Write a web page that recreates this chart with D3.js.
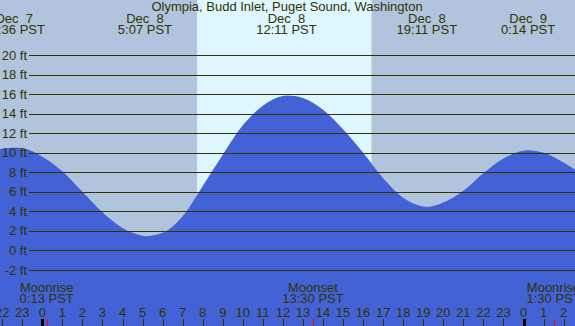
<!DOCTYPE html>
<html>
<head>
<meta charset="utf-8">
<script src="https://cdn.jsdelivr.net/npm/d3@7"></script>
<style>
  body { margin: 0; background: #b0c4de; }
  svg { display: block; }
  text { font-family: "Liberation Sans", Arial, sans-serif; font-size: 13px; fill: #333300; }
</style>
</head>
<body>
<div id="chart"></div>
<script>
// tide heights (ft), hours relative to Dec 8 0:00
const tideHours = [-2.2, -2, -1.4, -1, 0, 1, 2, 3, 4, 5, 5.12, 6, 7, 8, 9, 10, 11, 12, 12.18, 13, 14, 15, 16, 17, 18, 19, 19.18, 20, 21, 22, 23, 24, 24.23, 25, 26, 26.7];
const tideFeet  = [10.35, 10.4, 10.5, 10.45, 9.6, 8.1, 6.0, 3.9, 2.3, 1.5, 1.45, 1.8, 3.5, 6.6, 9.8, 12.8, 14.8, 15.8, 15.85, 15.6, 14.4, 12.4, 10.0, 7.4, 5.4, 4.5, 4.45, 4.9, 6.1, 7.9, 9.4, 10.2, 10.25, 10.0, 9.0, 8.1];

// high / low tide events along the top
const eventHours = [-1.4, 5.12, 12.18, 19.18, 24.23];
const eventDays  = ["Dec  7", "Dec  8", "Dec  8", "Dec  8", "Dec  9"];
const eventTimes = ["22:36 PST", "5:07 PST", "12:11 PST", "19:11 PST", "0:14 PST"];

// moon events along the bottom
const moonHours = [0.22, 13.5, 25.5];
const moonNames = ["Moonrise", "Moonset", "Moonrise"];
const moonTimes = ["0:13 PST", "13:30 PST", "1:30 PST"];

const sunrise = 7.72, sunset = 16.42;
const feetTicks = [-2, 0, 2, 4, 6, 8, 10, 12, 14, 16, 18, 20];
const hourTicks = d3.range(-2, 27);
const title = "Olympia, Budd Inlet, Puget Sound, Washington";

const width = 575, height = 326;

const x = d3.scaleLinear().domain([0, 24]).range([42.3, 523.5]);
const y = d3.scaleLinear().domain([-2, 20]).range([270, 55]);

const svg = d3.select("#chart").append("svg")
  .attr("width", width)
  .attr("height", height);

svg.append("rect")
  .attr("width", width).attr("height", height)
  .attr("fill", "#b0c4de");

// daylight
svg.append("rect")
  .attr("x", x(sunrise)).attr("y", 0)
  .attr("width", x(sunset) - x(sunrise)).attr("height", height)
  .attr("fill", "#ddf6ff");

// tide fill
const area = d3.area()
  .x((d, i) => x(tideHours[i]))
  .y0(height)
  .y1(d => y(d))
  .curve(d3.curveMonotoneX);

svg.append("path")
  .datum(tideFeet)
  .attr("d", area)
  .attr("fill", "#4262d6");

// grid + feet labels
const grid = svg.append("g");
grid.selectAll("line")
  .data(feetTicks)
  .enter()
  .append("line")
  .attr("x1", 29).attr("x2", width)
  .attr("y1", d => Math.round(y(d)) + 0.5)
  .attr("y2", d => Math.round(y(d)) + 0.5)
  .attr("stroke", "#333300")
  .attr("stroke-width", 1);

grid.selectAll("text")
  .data(feetTicks)
  .enter()
  .append("text")
  .attr("x", 27)
  .attr("y", d => y(d) + 4.5)
  .attr("text-anchor", "end")
  .text(d => d + " ft");

// title
svg.append("text")
  .attr("x", 287).attr("y", 11)
  .attr("text-anchor", "middle")
  .text(title);

// tide event labels
const ev = svg.append("g")
  .selectAll("g")
  .data(eventHours)
  .enter()
  .append("g");

ev.append("text")
  .attr("x", d => x(d)).attr("y", 23)
  .attr("text-anchor", "middle")
  .style("white-space", "pre")
  .text((d, i) => eventDays[i]);

ev.append("text")
  .attr("x", d => x(d)).attr("y", 34)
  .attr("text-anchor", "middle")
  .text((d, i) => eventTimes[i]);

// moon labels
const mo = svg.append("g")
  .selectAll("g")
  .data(moonHours)
  .enter()
  .append("g");

mo.append("text")
  .attr("x", d => x(d)).attr("y", 292)
  .attr("text-anchor", "middle")
  .text((d, i) => moonNames[i]);

mo.append("text")
  .attr("x", d => x(d)).attr("y", 303)
  .attr("text-anchor", "middle")
  .text((d, i) => moonTimes[i]);

// hour axis
svg.append("g")
  .selectAll("text")
  .data(hourTicks)
  .enter()
  .append("text")
  .attr("x", d => x(d)).attr("y", 317)
  .attr("text-anchor", "middle")
  .text(d => ((d % 24) + 24) % 24);

svg.append("g")
  .selectAll("line")
  .data(hourTicks)
  .enter()
  .append("line")
  .attr("x1", d => Math.round(x(d)) + 0.5)
  .attr("x2", d => Math.round(x(d)) + 0.5)
  .attr("y1", 319).attr("y2", height)
  .attr("stroke", d => d % 24 == 0 ? "#000" : "#333300")
  .attr("stroke-width", d => d % 24 == 0 ? 3 : 1);

svg.append("g")
  .selectAll("line")
  .data(moonHours)
  .enter()
  .append("line")
  .attr("x1", d => Math.round(x(d)) + 0.5)
  .attr("x2", d => Math.round(x(d)) + 0.5)
  .attr("y1", 319).attr("y2", height)
  .attr("stroke", "#ff0000")
  .attr("stroke-width", 1);
</script>
</body>
</html>
